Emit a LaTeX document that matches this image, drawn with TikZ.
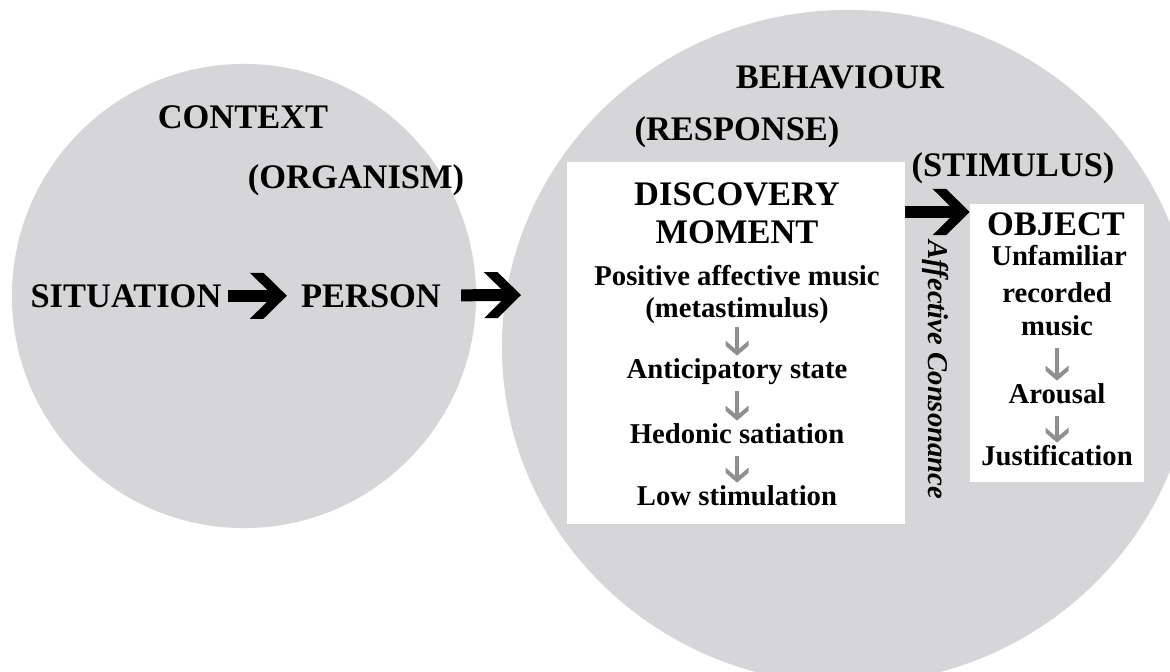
\documentclass[tikz,border=0pt]{standalone}
\usepackage{fontspec}
\setmainfont{Liberation Serif}
\usetikzlibrary{arrows.meta,positioning,calc}

\definecolor{circgray}{HTML}{D6D5D7}
\definecolor{arrgray}{HTML}{8F8F8F}

% heavy chevron head, like a bold right arrow
\pgfdeclarearrow{
  name = Chevron,
  defaults = {length=0.925cm, width=1.15cm, inset=0.34cm},
  parameters = {\the\pgfarrowlength,\the\pgfarrowwidth,\the\pgfarrowinset},
  setup code = {
    \pgfarrowssettipend{0pt}
    \pgfarrowssetlineend{-\pgfarrowinset}
    \pgfarrowssetbackend{-\pgfarrowlength}
    \pgfarrowssavethe\pgfarrowlength
    \pgfarrowssavethe\pgfarrowwidth
    \pgfarrowssavethe\pgfarrowinset
  },
  drawing code = {
    \pgfpathmoveto{\pgfpointorigin}
    \pgfpathlineto{\pgfpoint{\pgfarrowinset-\pgfarrowlength}{.5\pgfarrowwidth}}
    \pgfpathlineto{\pgfpoint{-\pgfarrowlength}{.5\pgfarrowwidth}}
    \pgfpathlineto{\pgfpoint{-\pgfarrowinset}{0pt}}
    \pgfpathlineto{\pgfpoint{-\pgfarrowlength}{-.5\pgfarrowwidth}}
    \pgfpathlineto{\pgfpoint{\pgfarrowinset-\pgfarrowlength}{-.5\pgfarrowwidth}}
    \pgfpathclose
    \pgfusepathqfill
  }
}

\tikzset{
  bigarrow/.style={color=black, line width=0.3cm, -{Chevron}},
  smallarrow/.style={color=arrgray, line width=0.1cm, -{Chevron[length=0.375cm,width=0.575cm,inset=0.13cm]}},
}

\begin{document}
\begin{tikzpicture}[x=0.025cm, y=-0.025cm,
  titletxt/.style={font=\fontsize{24.5}{29}\selectfont\bfseries, inner sep=0pt, anchor=base},
  itemtxt/.style={font=\fontsize{20.4}{24}\selectfont\bfseries, inner sep=0pt, anchor=base},
  whitebox/.style={fill=white, inner sep=0pt}]
\clip (0,0) rectangle (1170,671);

% Background circles
\fill[circgray] (244,296) circle [radius=5.8cm];
\fill[circgray] (848,347) ellipse [x radius=8.65cm, y radius=8.425cm];

% White boxes
\node[whitebox, minimum width=8.45cm, minimum height=9.05cm] (disc) at (736,343) {};
\node[whitebox, minimum width=4.35cm, minimum height=6.95cm] (obj) at (1057,343) {};

% Left circle
\node[titletxt] (context) at (243,128) {CONTEXT};
\node[titletxt] (organism) at (356,188) {(ORGANISM)};
\node[titletxt] (sit) at (126,307) {SITUATION};
\node[titletxt] (pers) at (371,307) {PERSON};
\coordinate (entry) at (521,295);

% Right circle
\node[titletxt] (behav) at (840,88) {BEHAVIOUR};
\node[titletxt] (resp) at (737,140) {(RESPONSE)};
\node[titletxt] (stim) at (1013,176) {(STIMULUS)};

% Discovery moment
\node[titletxt] (dm1) at (737,205) {DISCOVERY};
\node[titletxt] (dm2) at (737,243) {MOMENT};
\node[itemtxt, font=\fontsize{20.4}{22.8}\selectfont\bfseries, align=center, anchor=center] (pos) at (737,294) {Positive affective music\\(metastimulus)};
\node[itemtxt] (anti) at (737,378) {Anticipatory state};
\node[itemtxt] (hed) at (737,443) {Hedonic satiation};
\node[itemtxt] (low) at (737,505) {Low stimulation};

% Object
\node[titletxt] (objt) at (1056,235) {OBJECT};
\node[itemtxt] (unf) at (1059,265) {Unfamiliar};
\node[itemtxt] (rec) at (1057,302) {recorded};
\node[itemtxt] (mus) at (1057,335) {music};
\node[itemtxt] (arous) at (1057,403) {Arousal};
\node[itemtxt] (just) at (1057,465) {Justification};

\node[itemtxt, font=\fontsize{20.4}{24}\selectfont\bfseries\itshape, rotate=-90, anchor=center] (cons) at (936,370) {Affective Consonance};

% Arrows
\draw[bigarrow, shorten <=0.16cm, shorten >=0.35cm] (sit) -- (pers);
\draw[bigarrow, shorten <=0.5cm] (pers) -- (entry);
\draw[bigarrow] (disc.east |- 0,212) -- (obj.west |- 0,212);

\draw[smallarrow] ([yshift=-0.08cm]pos.south) -- ([yshift=0.56cm]anti.base);
\foreach \a/\b in {anti/hed, hed/low, mus/arous, arous/just}
  \draw[smallarrow] ([yshift=-0.33cm]\a.base) -- ([yshift=0.56cm]\b.base);

\end{tikzpicture}
\end{document}
